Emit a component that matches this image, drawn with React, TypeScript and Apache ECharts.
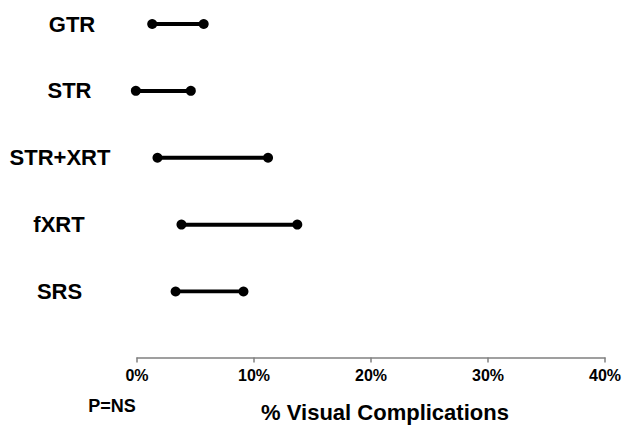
import React, { useEffect, useRef } from "react";
import * as echarts from "echarts";

const categories = ["GTR", "STR", "STR+XRT", "fXRT", "SRS"];
const lowValues = [1.3, -0.1, 1.75, 3.8, 3.3];
const highValues = [5.7, 4.6, 11.2, 13.7, 9.1];
const xTicks = [0, 10, 20, 30, 40];
const xTitle = "% Visual Complications";
const pNote = "P=NS";

// layout-only: horizontal centre of each category label (irregular in the original)
const labelCenterX: Record<string, number> = { GTR: 72, STR: 69.5, "STR+XRT": 60, fXRT: 59, SRS: 59.5 };

export default function App() {
  const ref = useRef<HTMLDivElement>(null);
  useEffect(() => {
    document.body.style.margin = "0";
    const chart = echarts.init(ref.current!, null, { renderer: "svg" });
    const font = "'Liberation Sans', Arial, sans-serif";
    const series = categories.map((c, i) => ({
      type: "line",
      name: c,
      data: [
        [lowValues[i], c],
        [highValues[i], c],
      ],
      symbol: "circle",
      symbolSize: 10,
      clip: false,
      lineStyle: { color: "#000", width: 4 },
      itemStyle: { color: "#000" },
      silent: true,
    }));
    chart.setOption({
      animation: false,
      grid: {
        left: 137,
        right: 29,
        top: 24,
        bottom: 136.5,
        containLabel: false,
        outerBoundsMode: "none",
      },
      xAxis: {
        type: "value",
        min: xTicks[0],
        max: xTicks[xTicks.length - 1],
        interval: xTicks[1] - xTicks[0],
        offset: 66,
        axisLine: { show: true, lineStyle: { color: "#808080", width: 1.5 } },
        axisTick: { show: true, inside: false, length: 5, lineStyle: { color: "#808080", width: 1.5 } },
        splitLine: { show: false },
        axisLabel: {
          formatter: (v: number) => `${v}%`,
          fontFamily: font,
          fontWeight: "bold",
          fontSize: 16,
          color: "#000",
          margin: 10,
        },
      },
      yAxis: {
        type: "category",
        inverse: true,
        boundaryGap: false,
        data: categories,
        axisLine: { show: false },
        axisTick: { show: false },
        splitLine: { show: false },
        axisLabel: { show: false },
      },
      series,
    });
    const catTexts = categories.map((c) => {
      const y = chart.convertToPixel({ yAxisIndex: 0 }, c) as number;
      return {
        type: "text",
        x: labelCenterX[c],
        y,
        style: {
          text: c,
          fontFamily: font,
          fontWeight: "bold",
          fontSize: 22,
          fill: "#000",
          align: "center",
          verticalAlign: "middle",
        },
      };
    });
    chart.setOption({
      graphic: [
        ...catTexts,
        {
          type: "text",
          x: 385,
          y: 412,
          style: {
            text: xTitle,
            fontFamily: font,
            fontWeight: "bold",
            fontSize: 22,
            fill: "#000",
            align: "center",
            verticalAlign: "middle",
          },
        },
        {
          type: "text",
          x: 112,
          y: 406,
          style: {
            text: pNote,
            fontFamily: font,
            fontWeight: "bold",
            fontSize: 18,
            fill: "#000",
            align: "center",
            verticalAlign: "middle",
          },
        },
      ],
    });
    return () => chart.dispose();
  }, []);
  return <div ref={ref} style={{ width: 634, height: 428 }} />;
}
